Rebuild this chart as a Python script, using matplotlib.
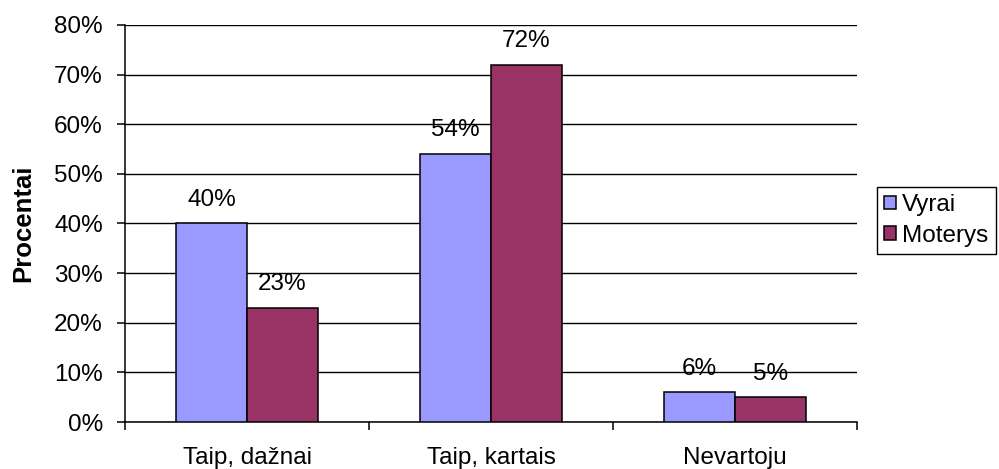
import numpy as np
import matplotlib
matplotlib.use("Agg")
import matplotlib.pyplot as plt
from matplotlib.ticker import FixedLocator, PercentFormatter

plt.rcParams['font.family'] = ['Liberation Sans', 'DejaVu Sans']

#------------------------------
#values
categories = ['Taip, dažnai', 'Taip, kartais', 'Nevartoju']
series = ['Vyrai', 'Moterys']
vyrai = [40, 54, 6]
moterys = [23, 72, 5]
colors = ['#9999FF', '#993366']

fs = 17.5

#------------------------------
#build chart
fig = plt.figure(figsize=(9.99, 4.69), dpi=100)
ax = fig.add_axes([125 / 999, 1 - 422 / 469, 732 / 999, 397 / 469])

x = np.arange(len(categories))
w = 0.29
for i, (vals, name) in enumerate(zip([vyrai, moterys], series)):
    pos = x + (i - 0.5) * w
    ax.bar(pos, vals, width=w, color=colors[i], edgecolor='black',
           linewidth=1.1, label=name, zorder=3)
    for px, v in zip(pos, vals):
        ax.annotate('%d%%' % v, (px, v), xytext=(0, 17), textcoords='offset points',
                    ha='center', va='center', fontsize=fs, zorder=4)

ax.set_xlim(-0.5, 2.5)
ax.set_ylim(0, 80)
ax.set_yticks(np.arange(0, 81, 10))
ax.yaxis.set_major_formatter(PercentFormatter(decimals=0))
ax.grid(axis='y', color='black', linewidth=1.0, zorder=0)
ax.set_axisbelow(True)

ax.set_xticks(x)
ax.set_xticklabels(categories)
ax.xaxis.set_minor_locator(FixedLocator([-0.5, 0.5, 1.5, 2.5]))
ax.tick_params(axis='x', which='major', length=0, pad=18, labelsize=fs)
ax.tick_params(axis='x', which='minor', length=6, width=1.1, direction='out')
ax.tick_params(axis='y', length=6, width=1.1, direction='out', pad=10, labelsize=fs)

for s in ['top', 'right']:
    ax.spines[s].set_visible(False)
for s in ['left', 'bottom']:
    ax.spines[s].set_linewidth(1.1)

fig.text(23 / 999, 1 - 223 / 469, 'Procentai', rotation=90, ha='center', va='center',
         fontsize=18.5, fontweight='bold')

leg = ax.legend(loc='center', bbox_to_anchor=(0.937, 0.53), bbox_transform=fig.transFigure,
                fontsize=fs, frameon=True, fancybox=False, framealpha=1,
                handlelength=0.5, handleheight=0.5, handletextpad=0.25,
                labelspacing=0.35, borderpad=0.3, borderaxespad=0)
leg.get_frame().set_edgecolor('black')
leg.get_frame().set_linewidth(1.0)

fig.savefig('out.png', dpi=100)
